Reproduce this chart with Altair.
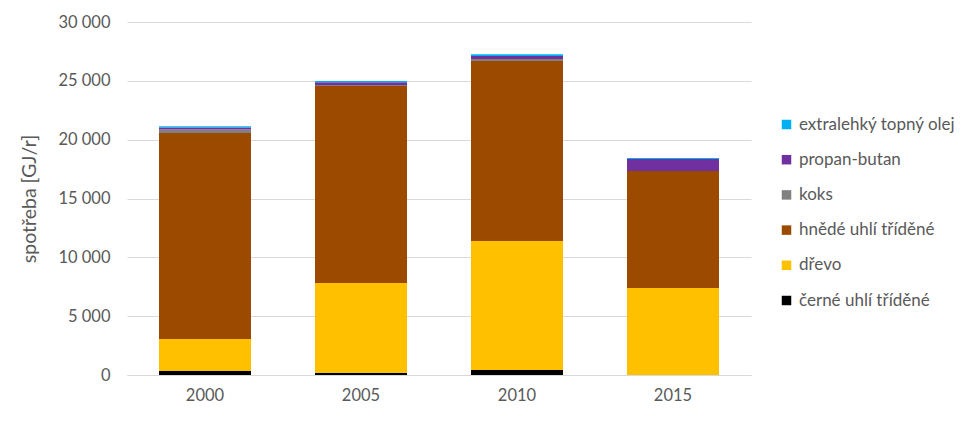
import altair as alt
import pandas as pd

years = ["2000", "2005", "2010", "2015"]
fuels = ["černé uhlí tříděné", "dřevo", "hnědé uhlí tříděné", "koks", "propan-butan", "extralehký topný olej"]
colors = ["#000000", "#FFC000", "#9C4A00", "#808080", "#7030A0", "#00B0F0"]
values = {
    "černé uhlí tříděné": [340, 200, 420, 0],
    "dřevo": [2720, 7620, 10970, 7390],
    "hnědé uhlí tříděné": [17510, 16740, 15300, 9950],
    "koks": [300, 80, 170, 0],
    "propan-butan": [170, 250, 250, 1020],
    "extralehký topný olej": [100, 100, 150, 80],
}

rows = []
for i, f in enumerate(fuels):
    for y, v in zip(years, values[f]):
        rows.append({"rok": y, "palivo": f, "hodnota": v, "poradi": i})
df = pd.DataFrame(rows)

font = "Lato"
grey = "#595959"

chart = alt.Chart(df).mark_bar(size=92).encode(
    x=alt.X("rok:N", title=None, scale=alt.Scale(paddingInner=0.41, paddingOuter=0.205),
            axis=alt.Axis(labelAngle=0, ticks=False, domainColor="#D9D9D9", labelPadding=12,
                          labelFontSize=16.5, labelColor=grey, labelFont=font)),
    y=alt.Y("hodnota:Q", stack="zero", title="spotřeba [GJ/r]",
            scale=alt.Scale(domain=[0, 30000], nice=False),
            axis=alt.Axis(values=[0, 5000, 10000, 15000, 20000, 25000, 30000],
                          labelExpr="replace(format(datum.value, ','), regexp(',', 'g'), ' ')",
                          domain=False, ticks=False, gridColor="#D9D9D9", labelPadding=17,
                          labelFontSize=16.5, labelColor=grey, labelFont=font,
                          titleFontSize=19.5, titleColor=grey, titleFont=font, titleFontWeight="normal",
                          titlePadding=18)),
    color=alt.Color("palivo:N",
                    scale=alt.Scale(domain=fuels[::-1], range=colors[::-1]),
                    legend=alt.Legend(title=None, orient="none", legendX=651, legendY=94,
                                      symbolType="square", symbolSize=90, symbolStrokeWidth=0,
                                      labelFontSize=17, labelColor=grey, labelFont=font,
                                      labelOffset=4, rowPadding=17.2, symbolOpacity=1)),
    order=alt.Order("poradi:Q", sort="ascending"),
).properties(
    width=624, height=353,
    background="white",
    autosize=alt.AutoSizeParams(type="none"),
    padding={"left": 119, "top": 14, "right": 221, "bottom": 40},
).configure_view(stroke=None)

chart.save("out.html", embed_options={"renderer": "svg", "actions": False})
